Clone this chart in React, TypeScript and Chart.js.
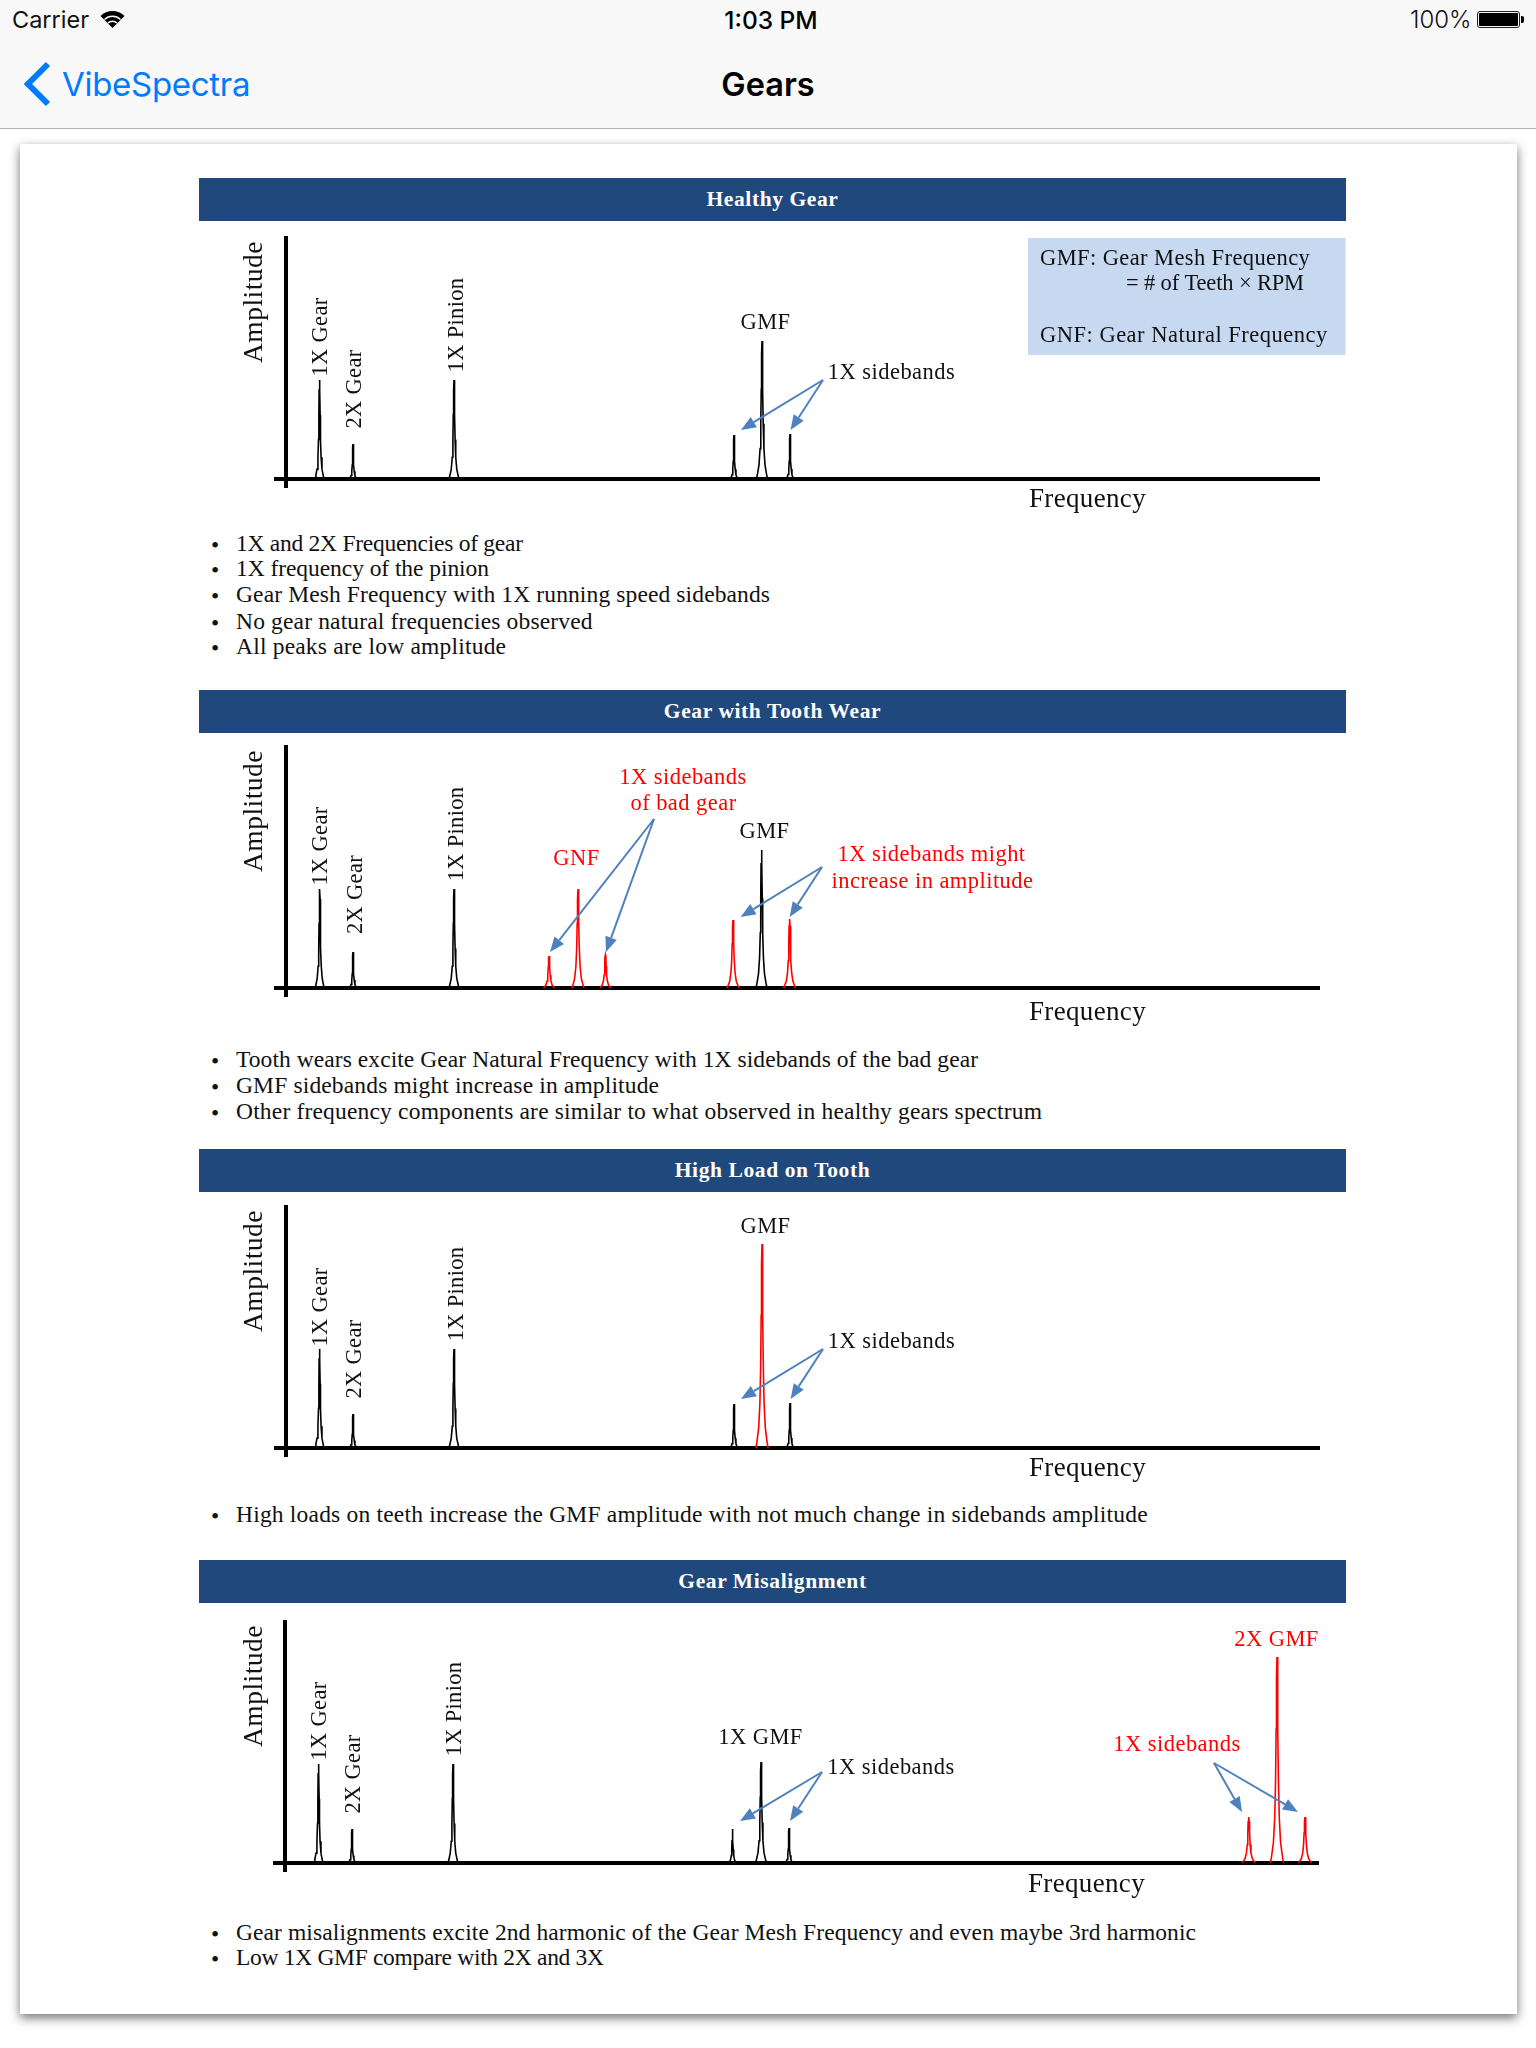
import React, { useEffect, useRef } from "react";
import { Chart, registerables } from "chart.js";

Chart.register(...registerables);

// ---------- text ----------
const healthyBullets = [
  "1X and 2X Frequencies of gear",
  "1X frequency of the pinion",
  "Gear Mesh Frequency with 1X running speed sidebands",
  "No gear natural frequencies observed",
  "All peaks are low amplitude",
];
const wearBullets = [
  "Tooth wears excite Gear Natural Frequency with 1X sidebands of the bad gear",
  "GMF sidebands might increase in amplitude",
  "Other frequency components are similar to what observed in healthy gears spectrum",
];
const loadBullets = ["High loads on teeth increase the GMF amplitude with not much change in sidebands amplitude"];
const misalignBullets = [
  "Gear misalignments excite 2nd harmonic of the Gear Mesh Frequency and even maybe 3rd harmonic",
  "Low 1X GMF compare with 2X and 3X",
];

// ---------- spectra: frequency, amplitude and half base width of every peak ----------
const healthyFreq = [33.5, 67, 168, 448, 476, 504];
const healthyAmp = [99, 35, 99, 44, 138, 45];
const healthyWidth = [4.5, 3.5, 5, 3.5, 5.5, 3.5];

const wearBlackFreq = [33.7, 67, 168, 475.5];
const wearBlackAmp = [99, 36, 99, 138];
const wearBlackWidth = [4.5, 3.5, 5, 5.5];
const wearRedFreq = [263, 292, 319.4, 447, 503.6];
const wearRedAmp = [32, 99, 33, 68, 69];
const wearRedWidth = [5.5, 6, 5.5, 6, 6];

const loadBlackFreq = [33.5, 67, 168, 448, 504];
const loadBlackAmp = [99, 34, 99, 44, 45];
const loadBlackWidth = [4.5, 3.5, 5, 3.5, 3.5];
const loadRedFreq = [476];
const loadRedAmp = [204];
const loadRedWidth = [6];

const misalignBlackFreq = [33.5, 67, 168, 447.5, 476, 504];
const misalignBlackAmp = [99, 34, 99, 34, 101, 35];
const misalignBlackWidth = [4.5, 3.5, 5, 3.5, 5.5, 3.5];
const misalignRedFreq = [963.7, 992, 1020];
const misalignRedAmp = [46, 206, 46];
const misalignRedWidth = [6.5, 6.5, 6.5];

// Shape of one peak: offset from centre (fraction of half width) and height fraction
const profileOffset = [-1, -0.8, -0.55, -0.35, -0.22, -0.14, -0.08, 0, 0.08, 0.14, 0.22, 0.35, 0.55, 0.8, 1];
const profileHeight = [0, 0.04, 0.1, 0.22, 0.4, 0.65, 0.9, 1, 0.9, 0.65, 0.4, 0.22, 0.1, 0.04, 0];

function spectrum(freq: number[], amp: number[], width: number[]) {
  const pts: { x: number; y: number | null }[] = [];
  freq.forEach((f, i) => {
    profileOffset.forEach((o, k) => pts.push({ x: f + o * width[i], y: profileHeight[k] * amp[i] }));
    pts.push({ x: f + width[i], y: null });
  });
  return pts;
}

// ---------- layout and styles ----------
const SERIF = '"Liberation Serif", serif';
const SANS = 'Inter, "Liberation Sans", sans-serif';
const BLUE = "#4f81bd";
const RED = "#ff0000";
const BLACK = "#000000";
const BAND = "#1f497d";
const BULLET_FONT = "23.5px " + SERIF;

let measureCtx: CanvasRenderingContext2D | null = null;
function fitSpacing(text: string, font: string, target: number) {
  if (!measureCtx) measureCtx = document.createElement("canvas").getContext("2d");
  if (!measureCtx) return 0;
  measureCtx.font = font;
  return (target - measureCtx.measureText(text).width) / Math.max(1, text.length - 1);
}

type Label = { t: string; x: number; y: number; c?: string; r?: boolean; big?: boolean; left?: boolean; ls?: number };
type Arrow = { from: [number, number]; to: [number, number][] };
type Spec = {
  title: string;
  bandTop: number;
  bandH: number;
  originX: number;
  originY: number;
  bullets: string[];
  bulletY: number[];
  bulletW: number[];
  series: { color: string; freq: number[]; amp: number[]; width: number[] }[];
  labels: Label[];
  arrows: Arrow[];
  box?: boolean;
};

const gearLabels = (gy: number, g2x: number, g2y: number, py: number, px = 169): Label[] => [
  { t: "1X Gear", x: 33.5, y: gy, r: true },
  { t: "2X Gear", x: g2x, y: g2y, r: true },
  { t: "1X Pinion", x: px, y: py, r: true },
];
const axisLabels = (fy: number, ax = -33): Label[] => [
  { t: "Amplitude", x: ax, y: 177, r: true, big: true },
  { t: "Frequency", x: 801.5, y: fy, big: true },
];

const specs: Spec[] = [
  {
    title: "Healthy Gear",
    bandTop: 178,
    bandH: 43,
    originX: 286,
    originY: 479,
    bullets: healthyBullets,
    bulletY: [543, 568, 594, 621, 646],
    bulletW: [287, 253, 534, 356.5, 270],
    series: [{ color: BLACK, freq: healthyFreq, amp: healthyAmp, width: healthyWidth }],
    labels: [
      ...axisLabels(-21),
      ...gearLabels(142, 67.5, 90, 154),
      { t: "GMF", x: 479.5, y: 156 },
      { t: "1X sidebands", x: 605.5, y: 106 },
      { t: "GMF: Gear Mesh Frequency", x: 754, y: 220, left: true, ls: 0.4 },
      { t: "= # of Teeth × RPM", x: 840, y: 195, left: true, ls: -0.15 },
      { t: "GNF: Gear Natural Frequency", x: 754, y: 143, left: true, ls: 0.5 },
    ],
    arrows: [{ from: [537, 99], to: [[455, 49], [504.5, 49]] }],
    box: true,
  },
  {
    title: "Gear with Tooth Wear",
    bandTop: 690,
    bandH: 43,
    originX: 286,
    originY: 988,
    bullets: wearBullets,
    bulletY: [1059, 1085, 1111],
    bulletW: [742, 423, 806],
    series: [
      { color: BLACK, freq: wearBlackFreq, amp: wearBlackAmp, width: wearBlackWidth },
      { color: RED, freq: wearRedFreq, amp: wearRedAmp, width: wearRedWidth },
    ],
    labels: [
      ...axisLabels(-25),
      ...gearLabels(142, 68.5, 93.5, 154),
      { t: "GMF", x: 478.5, y: 156 },
      { t: "GNF", x: 290.5, y: 129, c: RED },
      { t: "1X sidebands", x: 397, y: 210, c: RED },
      { t: "of bad gear", x: 397.5, y: 184, c: RED },
      { t: "1X sidebands might", x: 645.5, y: 133, c: RED },
      { t: "increase in amplitude", x: 646.5, y: 106, c: RED },
    ],
    arrows: [
      { from: [368, 169], to: [[264, 36], [320, 36]] },
      { from: [536, 121], to: [[454.6, 71], [503.6, 71]] },
    ],
  },
  {
    title: "High Load on Tooth",
    bandTop: 1149,
    bandH: 43,
    originX: 286,
    originY: 1448,
    bullets: loadBullets,
    bulletY: [1514],
    bulletW: [911.6],
    series: [
      { color: BLACK, freq: loadBlackFreq, amp: loadBlackAmp, width: loadBlackWidth },
      { color: RED, freq: loadRedFreq, amp: loadRedAmp, width: loadRedWidth },
    ],
    labels: [
      ...axisLabels(-21),
      ...gearLabels(141, 67.5, 89, 154),
      { t: "GMF", x: 479.5, y: 221 },
      { t: "1X sidebands", x: 605.5, y: 106 },
    ],
    arrows: [{ from: [537, 99], to: [[455, 49], [504.6, 49]] }],
  },
  {
    title: "Gear Misalignment",
    bandTop: 1560,
    bandH: 43,
    originX: 285,
    originY: 1863,
    bullets: misalignBullets,
    bulletY: [1932, 1957],
    bulletW: [960, 368],
    series: [
      { color: BLACK, freq: misalignBlackFreq, amp: misalignBlackAmp, width: misalignBlackWidth },
      { color: RED, freq: misalignRedFreq, amp: misalignRedAmp, width: misalignRedWidth },
    ],
    labels: [
      ...axisLabels(-22, -32),
      ...gearLabels(142, 67.5, 89, 154, 168),
      { t: "1X GMF", x: 475.5, y: 125 },
      { t: "1X sidebands", x: 606, y: 95 },
      { t: "2X GMF", x: 991.5, y: 223, c: RED },
      { t: "1X sidebands", x: 892, y: 118, c: RED },
    ],
    arrows: [
      { from: [537, 91], to: [[455, 42], [505, 42]] },
      { from: [929, 100], to: [[957, 51], [1013, 51]] },
    ],
  },
];

const CANVAS_LEFT = 199;
const CANVAS_W = 1147;

function annotations(spec: Spec) {
  return {
    id: "annotations",
    afterDatasetsDraw(chart: any) {
      const { ctx, scales } = chart;
      const X = (v: number) => scales.x.getPixelForValue(v);
      const Y = (v: number) => scales.y.getPixelForValue(v);
      ctx.save();
      spec.arrows.forEach((a) => {
        a.to.forEach((t) => {
          const x0 = X(a.from[0]), y0 = Y(a.from[1]), x1 = X(t[0]), y1 = Y(t[1]);
          const ang = Math.atan2(y1 - y0, x1 - x0);
          const hl = 15, hw = 6;
          ctx.strokeStyle = BLUE;
          ctx.fillStyle = BLUE;
          ctx.lineWidth = 2;
          ctx.beginPath();
          ctx.moveTo(x0, y0);
          ctx.lineTo(x1 - hl * Math.cos(ang), y1 - hl * Math.sin(ang));
          ctx.stroke();
          ctx.beginPath();
          ctx.moveTo(x1, y1);
          ctx.lineTo(x1 - hl * Math.cos(ang) - hw * Math.sin(ang), y1 - hl * Math.sin(ang) + hw * Math.cos(ang));
          ctx.lineTo(x1 - hl * Math.cos(ang) + hw * Math.sin(ang), y1 - hl * Math.sin(ang) - hw * Math.cos(ang));
          ctx.closePath();
          ctx.fill();
        });
      });
      spec.labels.forEach((l) => {
        ctx.save();
        ctx.translate(X(l.x) + (l.r ? 2 : 0), Y(l.y));
        if (l.r) ctx.rotate(-Math.PI / 2);
        ctx.fillStyle = l.c || "#111111";
        ctx.textBaseline = "middle";
        ctx.textAlign = l.left ? "left" : "center";
        if (l.big) {
          ctx.font = (l.r ? "27.5px " : "27px ") + SERIF;
          ctx.letterSpacing = l.r ? "0.5px" : "0.35px";
        } else if (l.r) {
          ctx.font = "22.5px " + SERIF;
          ctx.letterSpacing = "0.3px";
        } else {
          ctx.font = "22.5px " + SERIF;
          ctx.letterSpacing = (l.ls !== undefined ? l.ls : 0.45) + "px";
        }
        ctx.fillText(l.t, 0, 0);
        ctx.restore();
      });
      ctx.restore();
    },
    beforeDatasetsDraw(chart: any) {
      if (!spec.box) return;
      const { ctx, scales } = chart;
      const x0 = scales.x.getPixelForValue(742), x1 = scales.x.getPixelForValue(1059.5);
      const y0 = scales.y.getPixelForValue(241), y1 = scales.y.getPixelForValue(124);
      ctx.save();
      ctx.fillStyle = "#c6d9f1";
      ctx.fillRect(x0, y0, x1 - x0, y1 - y0);
      ctx.restore();
    },
  };
}

function SpectrumChart({ spec }: { spec: Spec }) {
  const ref = useRef<HTMLCanvasElement | null>(null);
  const top = spec.bandTop + spec.bandH;
  const height = spec.originY + 45 - top;
  useEffect(() => {
    if (!ref.current) return;
    const axisTop = spec.originY - 241.5;
    const axisBottom = spec.originY + 8.5;
    const axisLeft = spec.originX - 10.5;
    const axisRight = spec.originX + 1033.5;
    const chart = new Chart(ref.current, {
      type: "line",
      data: {
        datasets: spec.series.map((s) => ({
          data: spectrum(s.freq, s.amp, s.width),
          borderColor: s.color,
          borderWidth: 1.6,
          pointRadius: 0,
          tension: 0,
          spanGaps: false,
          fill: false,
        })),
      },
      plugins: [annotations(spec)],
      options: {
        animation: false,
        responsive: false,
        maintainAspectRatio: false,
        parsing: { xAxisKey: "x", yAxisKey: "y" },
        layout: {
          padding: {
            left: axisLeft - CANVAS_LEFT,
            right: CANVAS_LEFT + CANVAS_W - axisRight,
            top: axisTop - top,
            bottom: top + height - axisBottom,
          },
        },
        plugins: { legend: { display: false }, tooltip: { enabled: false }, title: { display: false } },
        scales: {
          x: {
            type: "linear",
            min: -10.5,
            max: 1033.5,
            position: { y: 0 },
            grid: { display: false },
            ticks: { display: false },
            border: { display: true, color: "#000000", width: 4 },
          },
          y: {
            type: "linear",
            min: -8.5,
            max: 241.5,
            position: { x: 0 },
            grid: { display: false },
            ticks: { display: false },
            border: { display: true, color: "#000000", width: 4 },
          },
        },
      },
    } as any);
    return () => chart.destroy();
  }, [spec]);
  return (
    <canvas
      ref={ref}
      width={CANVAS_W}
      height={height}
      style={{ position: "absolute", left: CANVAS_LEFT, top, width: CANVAS_W, height }}
    />
  );
}

const abs = (s: React.CSSProperties): React.CSSProperties => ({ position: "absolute", whiteSpace: "nowrap", ...s });

function Section({ spec }: { spec: Spec }) {
  return (
    <>
      <div
        style={abs({
          left: CANVAS_LEFT,
          top: spec.bandTop,
          width: CANVAS_W,
          height: spec.bandH,
          lineHeight: spec.bandH + "px",
          background: BAND,
          color: "#fff",
          textAlign: "center",
          fontFamily: SERIF,
          fontWeight: 700,
          fontSize: 21.5,
          letterSpacing: 0.6,
        })}
      >
        {spec.title}
      </div>
      <SpectrumChart spec={spec} />
      {spec.bullets.map((b, i) => (
        <React.Fragment key={b}>
          <div style={abs({ left: 211, top: spec.bulletY[i] - 13.5, lineHeight: "30px", fontFamily: SERIF, fontSize: 23.5, color: "#111" })}>•</div>
          <div
            style={abs({
              left: 236,
              top: spec.bulletY[i] - 15,
              lineHeight: "30px",
              fontFamily: SERIF,
              fontSize: 23.5,
              letterSpacing: fitSpacing(b, BULLET_FONT, spec.bulletW[i]),
              color: "#111",
            })}
          >
            {b}
          </div>
        </React.Fragment>
      ))}
    </>
  );
}

export default function App() {
  return (
    <div style={{ position: "absolute", left: 0, top: 0, width: 1536, height: 2048, background: "#fff", overflow: "hidden" }}>
      <div style={abs({ left: 0, top: 0, width: 1536, height: 128, background: "#f8f8f8", borderBottom: "1px solid #b2b2b2" })} />
      <div style={abs({ left: 12, top: 6, lineHeight: "28px", fontFamily: SANS, fontSize: 23.5, color: "#111" })}>Carrier</div>
      <svg style={{ position: "absolute", left: 100, top: 11 }} width="25" height="18" viewBox="0 0 25 18">
        <path d="M12.5 17 L0.5 5 A17 17 0 0 1 24.5 5 Z" fill="#000" />
        <path d="M4.5 8.5 A11.5 11.5 0 0 1 20.5 8.5" fill="none" stroke="#f8f8f8" strokeWidth="1.6" />
        <path d="M8 12 A6.5 6.5 0 0 1 17 12" fill="none" stroke="#f8f8f8" strokeWidth="1.6" />
      </svg>
      <div style={abs({ left: 668, width: 206, top: 6, textAlign: "center", lineHeight: "28px", fontFamily: SANS, fontSize: 24.5, fontWeight: 500, color: "#000" })}>1:03 PM</div>
      <div style={abs({ left: 1410, top: 6, lineHeight: "28px", fontFamily: SANS, fontSize: 24, fontWeight: 300, color: "#111" })}>100%</div>
      <div style={abs({ left: 1477, top: 11, width: 43, height: 17, border: "1px solid #222", borderRadius: 3, boxSizing: "border-box", padding: 1 })}>
        <div style={{ width: "100%", height: "100%", background: "#000", borderRadius: 1 }} />
      </div>
      <div style={abs({ left: 1521, top: 16, width: 3, height: 7, background: "#000", borderRadius: "0 2px 2px 0" })} />
      <svg style={{ position: "absolute", left: 22, top: 60 }} width="32" height="48" viewBox="0 0 32 48">
        <path d="M26 4 L6 24 L26 44" fill="none" stroke="#007aff" strokeWidth="6" />
      </svg>
      <div style={abs({ left: 62, top: 62, lineHeight: "44px", fontFamily: SANS, fontSize: 33, fontWeight: 400, letterSpacing: -0.3, color: "#007aff" })}>VibeSpectra</div>
      <div style={abs({ left: 668, width: 200, top: 63, textAlign: "center", lineHeight: "44px", fontFamily: SANS, fontSize: 32.5, fontWeight: 600, color: "#000" })}>Gears</div>

      <div style={abs({ left: 20, top: 144, width: 1497, height: 1870, background: "#fff", boxShadow: "0 4px 10px rgba(0,0,0,0.55)" })} />
      {specs.map((s) => (
        <Section key={s.title} spec={s} />
      ))}
    </div>
  );
}
